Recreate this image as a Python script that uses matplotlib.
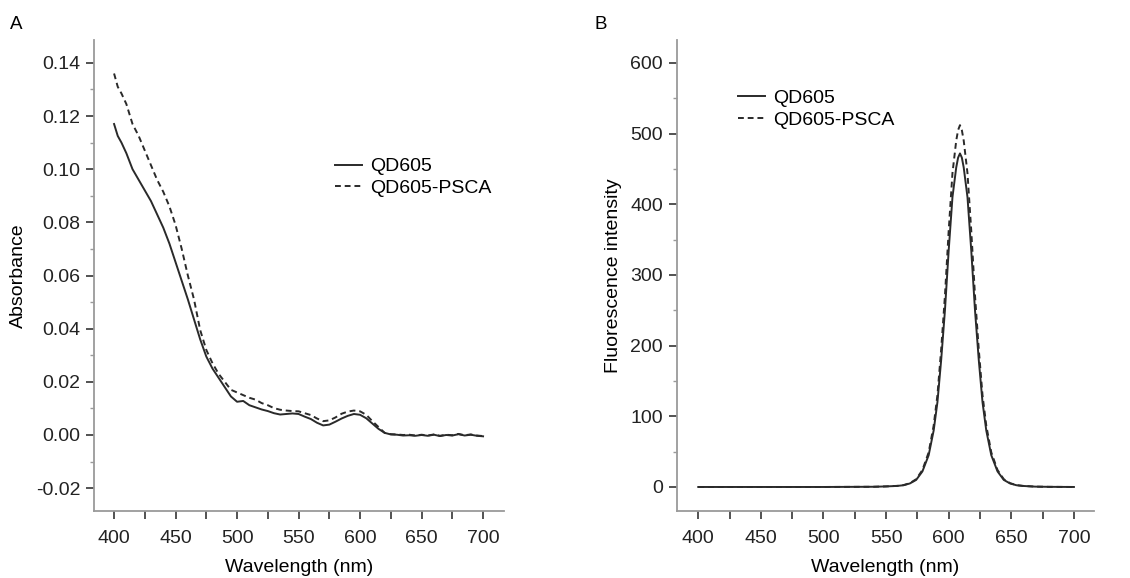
import numpy as np
import matplotlib
matplotlib.use("Agg")
import matplotlib.pyplot as plt
from matplotlib.ticker import MultipleLocator

plt.rcParams['font.family'] = ['Liberation Sans', 'DejaVu Sans']

# absorbance spectra (panel A)
abs_wl = [400, 403, 406, 410, 415, 420, 425, 430, 435, 440, 445, 450, 455, 460, 465,
          470, 475, 480, 485, 490, 495, 500, 505, 510, 515, 520, 525, 530, 535, 540,
          545, 550, 555, 560, 565, 570, 575, 580, 585, 590, 595, 600, 605, 610, 615,
          620, 625, 630, 635, 640, 645, 650, 655, 660, 665, 670, 675, 680, 685, 690,
          695, 700]
abs_qd = [0.1170, 0.1125, 0.1100, 0.1060, 0.1000, 0.0960, 0.0920, 0.0880, 0.0830, 0.0780,
          0.0720, 0.0650, 0.0580, 0.0510, 0.0435, 0.0360, 0.0295, 0.0250, 0.0215, 0.0180,
          0.0145, 0.0125, 0.0128, 0.0112, 0.0104, 0.0096, 0.0090, 0.0082, 0.0077, 0.0079,
          0.0081, 0.0079, 0.0069, 0.0060, 0.0046, 0.0036, 0.0039, 0.0050, 0.0062, 0.0072,
          0.0079, 0.0076, 0.0063, 0.0043, 0.0023, 0.0008, 0.0002, 0.0001, -0.0002, -0.0001,
          -0.0003, 0.0000, -0.0003, 0.0001, -0.0004, 0.0000, -0.0002, 0.0003, -0.0002, 0.0001,
          -0.0003, -0.0005]
abs_psca = [0.1360, 0.1310, 0.1285, 0.1245, 0.1170, 0.1125, 0.1070, 0.1015, 0.0960, 0.0915,
            0.0860, 0.0790, 0.0700, 0.0600, 0.0510, 0.0395, 0.0320, 0.0270, 0.0230, 0.0200,
            0.0170, 0.0160, 0.0150, 0.0140, 0.0133, 0.0120, 0.0112, 0.0101, 0.0095, 0.0092,
            0.0090, 0.0089, 0.0082, 0.0075, 0.0062, 0.0052, 0.0055, 0.0066, 0.0080, 0.0088,
            0.0092, 0.0089, 0.0076, 0.0052, 0.0030, 0.0008, 0.0003, 0.0002, 0.0000, 0.0001,
            -0.0002, 0.0001, -0.0002, 0.0002, -0.0003, 0.0001, -0.0001, 0.0004, -0.0001, 0.0002,
            -0.0002, -0.0004]
abs_ticks = [-0.02, 0.00, 0.02, 0.04, 0.06, 0.08, 0.10, 0.12, 0.14]
abs_tick_labels = ['-0.02', '0.00', '0.02', '0.04', '0.06', '0.08', '0.10', '0.12', '0.14']

# fluorescence spectra (panel B)
fl_wl = [400, 500, 540, 550, 559, 564, 569, 574, 579, 584, 588, 591, 594, 597, 600, 603,
         606, 607.5, 609, 610.5, 612, 615, 618, 621, 624, 627, 630, 634, 639, 644, 649, 654,
         659, 669, 680, 700]
fl_qd = [0, 0, 0.3, 0.8, 1.5, 2.5, 5, 10, 22, 45, 80, 120, 180, 250, 335, 410, 452, 466,
         472, 466, 452, 410, 335, 250, 180, 120, 80, 45, 22, 10, 5, 2.5, 1.5, 0.5, 0.2, 0]
fl_psca = [0, 0, 0.3, 0.8, 1.6, 2.7, 5.4, 11, 24, 49, 87, 130, 195, 271, 363, 444, 490, 505,
           512, 505, 490, 444, 363, 271, 195, 130, 87, 49, 24, 11, 5.4, 2.7, 1.6, 0.5, 0.2, 0]

line_col = '#2a2a2a'
spine_col = '#9a9a9a'
tick_col = '#444444'
fs = 14

fig = plt.figure(figsize=(11.3, 5.78), dpi=100)
axA = fig.add_axes([0.0832, 0.1159, 0.3628, 0.8149])
axB = fig.add_axes([0.5991, 0.1159, 0.3690, 0.8149])

axA.plot(abs_wl, abs_qd, color=line_col, lw=1.4, label='QD605')
axA.plot(abs_wl, abs_psca, color=line_col, lw=1.4, ls=(0, (3, 2)), label='QD605-PSCA')
axA.set_xlim(383.7, 717)
axA.set_ylim(-0.0286, 0.1486)
axA.set_yticks(abs_ticks)
axA.set_yticklabels(abs_tick_labels)
axA.yaxis.set_minor_locator(MultipleLocator(0.01))
axA.set_ylabel('Absorbance', fontsize=fs, labelpad=6)

axB.plot(fl_wl, fl_qd, color=line_col, lw=1.4, label='QD605')
axB.plot(fl_wl, fl_psca, color=line_col, lw=1.4, ls=(0, (3, 2)), label='QD605-PSCA')
axB.set_xlim(383, 716)
axB.set_ylim(-34, 632.5)
axB.yaxis.set_major_locator(MultipleLocator(100))
axB.yaxis.set_minor_locator(MultipleLocator(50))
axB.set_ylabel('Fluorescence intensity', fontsize=fs, labelpad=6)

for ax in (axA, axB):
    ax.spines['top'].set_visible(False)
    ax.spines['right'].set_visible(False)
    ax.spines['left'].set_color(spine_col)
    ax.spines['bottom'].set_color(spine_col)
    ax.spines['left'].set_linewidth(1.3)
    ax.spines['bottom'].set_linewidth(1.3)
    ax.xaxis.set_major_locator(MultipleLocator(50))
    ax.xaxis.set_minor_locator(MultipleLocator(25))
    ax.tick_params(axis='y', which='major', direction='out', length=6, width=1.3,
                   color=tick_col, labelsize=fs, labelcolor='#222222', pad=4)
    ax.tick_params(axis='x', which='major', direction='out', length=6, width=1.3,
                   color=tick_col, labelsize=fs, labelcolor='#222222', pad=8)
    ax.tick_params(axis='x', which='minor', direction='out', length=6, width=1.3, color=tick_col)
    ax.tick_params(axis='y', which='minor', direction='out', length=3, width=1.0, color=spine_col)
    ax.set_xlabel('Wavelength (nm)', fontsize=fs, labelpad=8)

axA.legend(loc='upper left', bbox_to_anchor=(0.2965, 0.727), bbox_transform=fig.transFigure,
           frameon=False, fontsize=fs, handlelength=1.4, handletextpad=0.4,
           labelspacing=0.2, borderpad=0, borderaxespad=0)
axB.legend(loc='upper left', bbox_to_anchor=(0.653, 0.845), bbox_transform=fig.transFigure,
           frameon=False, fontsize=fs, handlelength=1.4, handletextpad=0.4,
           labelspacing=0.2, borderpad=0, borderaxespad=0)

fig.text(0.009, 0.958, 'A', fontsize=13.5, va='center')
fig.text(0.526, 0.958, 'B', fontsize=13.5, va='center')

fig.savefig('out.png', dpi=100)
